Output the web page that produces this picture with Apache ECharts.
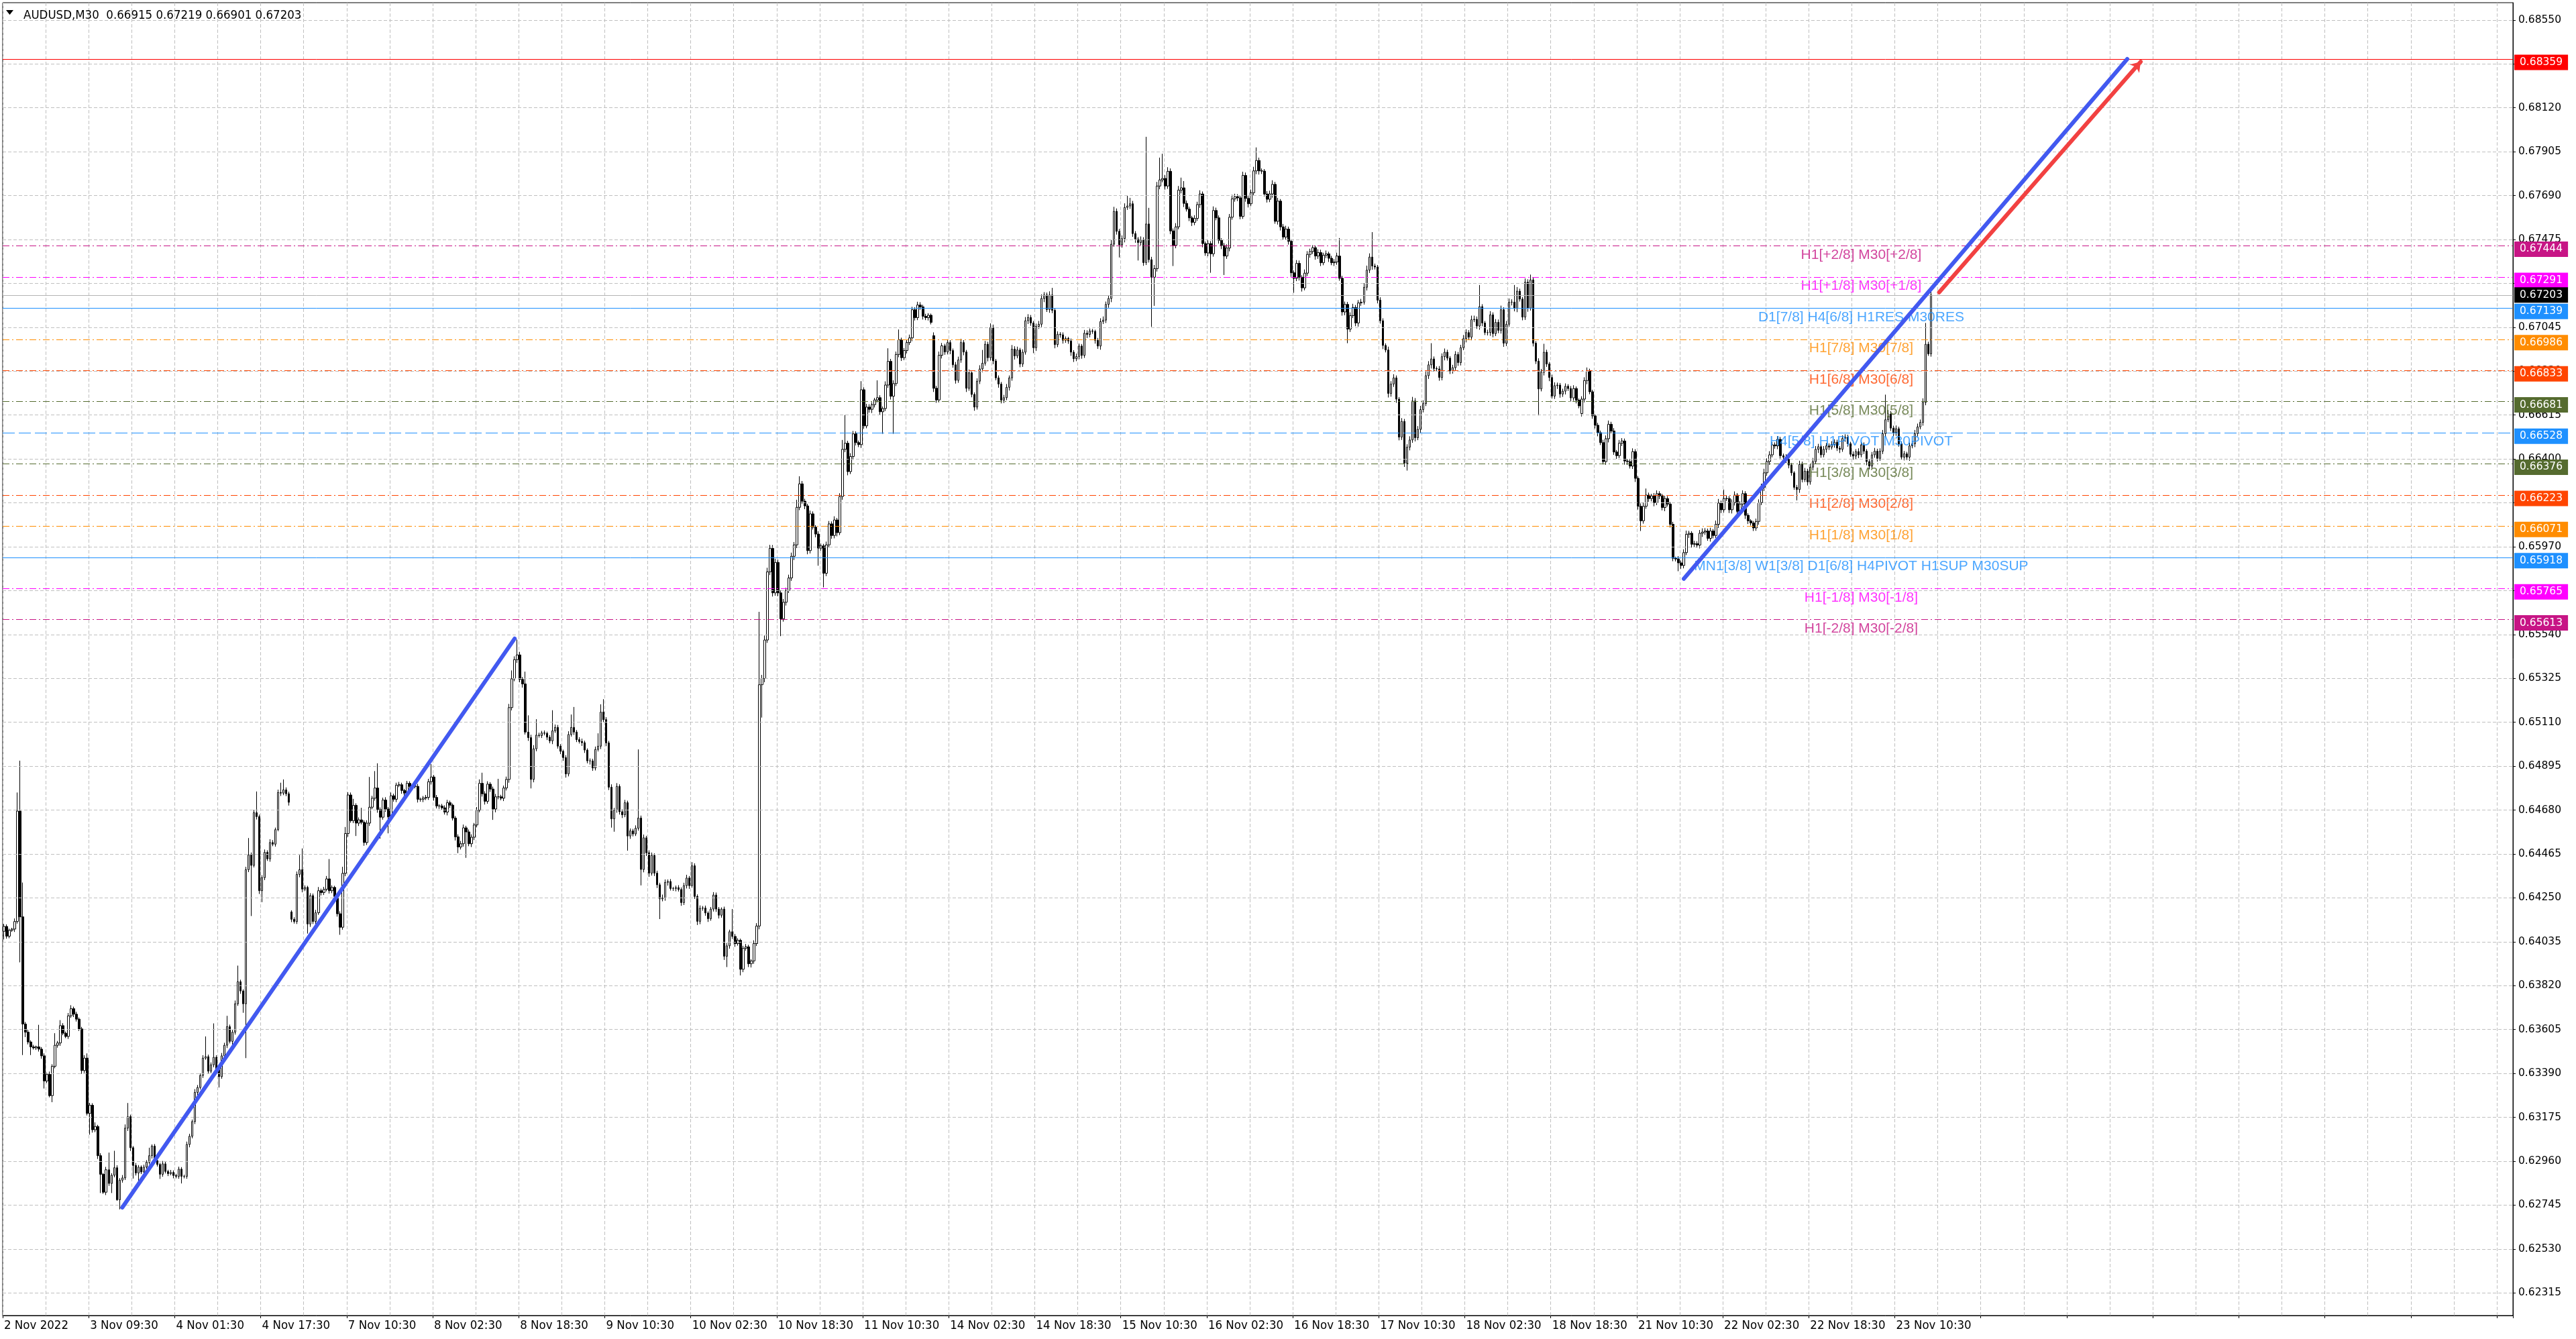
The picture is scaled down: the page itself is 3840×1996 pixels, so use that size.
<!DOCTYPE html>
<html lang="en">
<head>
<meta charset="UTF-8">
<title>AUDUSD,M30</title>
<style>
html,body{margin:0;padding:0;background:#fff;}
#main{width:3840px;height:1996px;}
</style>
</head>
<body>
<div id="main"></div>
<script src="https://cdn.jsdelivr.net/npm/echarts@6/dist/echarts.min.js"></script>
<script>
// M30 bars, prices in 1e-5 units (64110 = 0.64110)
const firstOpen = 64086;
const closes = [
64110,64062,64091,64097,64134,64675,64157,63632,63592,63544,63520,63515,63520,63509,63476,63353,63385,63281,63425,63528,
63539,63624,63587,63571,63672,63707,63680,63656,63608,63404,63465,63194,63234,63114,63130,62987,62896,62808,62918,62851,
62891,62928,62771,62867,62878,63122,63178,63026,62939,62902,62931,62907,62931,62955,62987,63034,62963,62944,62896,62947,
62910,62899,62905,62890,62886,62921,62886,62886,63042,63082,63154,63297,63321,63380,63465,63472,63401,63432,63469,63409,
63374,63476,63528,63619,63547,63592,63731,63839,63794,63731,64388,64460,64409,64667,64648,64285,64349,64473,64441,64521,
64513,64584,64766,64763,64779,64760,64718,64145,64134,64365,64388,64293,64301,64122,64261,64134,64177,64285,64276,64292,
64343,64285,64301,64257,64172,64106,64370,64565,64754,64628,64703,64616,64632,64620,64521,64616,64694,64738,64788,64683,
64645,64729,64685,64647,64750,64733,64802,64804,64776,64763,64811,64796,64798,64796,64733,64733,64739,64742,64819,64842,
64742,64700,64700,64691,64670,64716,64704,64641,64549,64499,64515,64593,64573,64515,64547,64607,64679,64811,64760,64723,
64807,64783,64685,64745,64745,64738,64788,64830,65182,65323,65417,65440,65320,65298,65062,65035,64830,64980,65047,65045,
65058,65056,65037,65019,65068,65085,64993,64968,64937,64857,65050,65085,65062,65025,65016,65010,64974,64921,64921,64886,
64977,64993,65160,65123,65009,64792,64637,64679,64796,64672,64657,64716,64553,64578,64563,64591,64641,64389,64544,64471,
64371,64458,64371,64314,64245,64250,64326,64330,64296,64296,64300,64291,64227,64310,64347,64310,64407,64257,64135,64199,
64200,64176,64148,64195,64264,64195,64165,64195,63964,64015,64084,64061,64026,64042,63900,64003,64010,63927,63941,64026,
64112,65294,65324,65513,65847,65962,65744,65893,65744,65617,65698,65755,65817,65923,65979,66163,66278,66193,66170,65951,
66131,66066,66032,65963,65974,65840,65979,66082,66025,66101,66039,66216,66447,66477,66338,66412,66523,66480,66470,66739,
66562,66654,66643,66666,66689,66700,66631,66647,66762,66878,66707,66769,66912,66984,66896,66931,66970,66993,67131,67092,
67154,67145,67099,67092,67104,67069,66746,66689,66908,66954,66924,66970,66931,66861,66785,66885,66970,66924,66746,66822,
66716,66654,66781,66841,66869,66962,66896,67044,66880,66797,66767,66688,66700,66751,66797,66938,66905,66934,66865,66923,
67077,67093,67066,66945,67049,67060,67186,67203,67132,67203,67128,66960,67011,67008,66981,66990,66978,66923,66891,66902,
66953,66907,67016,67010,67027,67025,66981,66953,67073,67080,67157,67186,67452,67613,67515,67449,67479,67632,67639,67650,
67504,67477,67460,67474,67362,67551,67376,67290,67332,67737,67767,67774,67737,67809,67517,67446,67537,67717,67728,67652,
67624,67581,67559,67578,67646,67698,67455,67409,67455,67405,67617,67581,67471,67446,67394,67433,67584,67674,67685,67679,
67588,67789,67676,67650,67704,67811,67862,67811,67810,67698,67672,67698,67745,67564,67663,67537,67487,67526,67466,67312,
67285,67358,67290,67238,67310,67402,67416,67435,67394,67411,67361,67398,67405,67383,67361,67365,67394,67285,67120,67157,
67036,67102,67142,67066,67164,67168,67241,67325,67389,67345,67340,67178,67077,66956,66934,66721,66767,66797,66693,66507,
66584,66379,66458,66493,66684,66504,66545,66642,66671,66808,66861,66890,66843,66841,66799,66901,66923,66894,66832,66847,
66912,66872,66945,66989,67019,66997,67082,67084,67051,67146,67066,67019,67019,67106,67014,67069,67030,67131,66967,67060,
67168,67168,67137,67222,67183,67095,67266,67139,67277,66967,66879,66743,66825,66923,66865,66799,66708,66759,66762,66718,
66732,66756,66745,66699,66745,66688,66660,66693,66784,66830,66729,66611,66565,66529,66480,66387,66499,66570,66537,66434,
66416,66477,66488,66390,66387,66365,66436,66305,66168,66097,66168,66223,66206,66219,66186,66230,66219,66162,66206,66179,
66080,65913,65910,65891,65878,65941,66031,66036,65982,65985,65978,66036,66042,66047,66011,66047,66025,66080,66184,66151,
66206,66206,66151,66186,66223,66143,66179,66230,66124,66097,66086,66062,66094,66186,66261,66332,66387,66420,66469,66464,
66496,66416,66409,66398,66370,66332,66261,66250,66373,66299,66340,66288,66360,66387,66447,66460,66420,66447,66464,66458,
66471,66482,66453,66447,66500,66507,66474,66423,66414,66436,66420,66469,66438,66387,66365,66420,66438,66403,66438,66524,
66592,66620,66551,66529,66548,66474,66409,66425,66409,66464,66474,66524,66557,66579,66677,66962,66915,67203
];
// wick lengths above / below the body
const upWick = [
12,10,8,6,15,91,247,168,10,12,8,10,6,108,10,12,8,14,10,59,
10,27,12,8,14,17,10,12,8,10,14,23,12,10,20,8,12,6,14,84,
10,83,12,10,14,18,67,10,8,12,10,8,12,10,39,8,10,12,8,14,
10,8,12,10,8,12,10,8,14,12,10,16,12,10,14,99,10,12,166,10,
8,14,12,53,10,12,16,79,10,8,14,83,12,14,104,10,12,14,10,16,
12,10,14,48,51,12,10,8,10,14,72,104,10,8,12,10,14,18,10,12,
14,97,10,8,10,12,32,32,13,12,32,10,12,59,10,14,148,12,83,121,
10,12,14,10,16,10,12,14,10,8,12,10,8,10,12,8,10,12,14,63,
10,12,8,10,12,14,10,8,10,12,14,16,10,12,14,10,16,19,52,12,
14,10,12,14,88,10,12,14,18,41,16,75,15,12,60,82,14,18,78,12,
10,12,8,10,101,14,12,10,8,12,16,63,100,10,12,14,10,8,12,10,
14,63,38,63,12,10,14,12,16,10,12,14,10,12,10,14,336,12,16,10,
12,14,10,12,10,16,14,10,12,8,10,12,10,14,16,10,18,12,10,14,
10,12,8,10,14,12,10,8,12,14,10,111,12,10,8,12,14,10,8,16,
14,357,18,22,20,17,16,18,14,12,16,14,16,18,14,37,37,14,12,10,
16,12,10,14,12,10,16,14,12,18,10,16,46,138,12,16,14,12,10,42,
12,16,14,12,10,85,12,10,18,64,12,16,14,50,10,12,14,16,14,12,
16,14,10,12,10,8,16,12,18,14,10,16,12,10,14,16,18,12,10,16,
12,10,14,18,65,16,12,20,14,10,12,10,14,16,12,20,14,16,10,14,
18,16,12,10,14,16,20,14,12,18,35,10,14,10,12,10,8,12,10,14,
12,10,16,14,12,10,8,12,16,18,14,16,22,22,14,12,16,20,51,29,
14,12,10,16,12,427,79,14,18,20,109,121,16,20,14,12,18,20,50,33,
14,12,10,16,14,18,12,10,16,12,20,14,12,10,12,18,16,20,14,12,
12,18,14,12,16,20,64,14,12,10,14,16,20,12,16,10,14,16,12,10,
12,16,14,10,18,16,14,12,10,16,14,12,16,10,12,14,16,88,12,14,
12,16,18,12,14,16,20,22,18,122,12,10,14,12,10,16,14,18,12,10,
16,12,14,18,20,14,16,18,16,20,18,77,12,10,14,16,18,12,10,14,
16,12,14,18,16,12,20,18,14,106,12,10,14,18,12,16,14,20,12,16,
18,14,84,20,12,10,18,14,26,12,10,14,16,41,12,10,14,16,12,10,
12,14,10,12,16,10,8,14,16,18,12,10,8,12,10,14,16,18,12,14,
10,16,14,12,10,14,16,12,10,14,18,32,12,10,14,16,12,10,14,12,
10,12,8,14,12,16,18,12,10,14,12,16,18,14,12,16,10,18,20,12,
44,14,12,16,18,10,14,16,12,10,8,10,14,16,18,20,16,18,14,12,
16,12,10,14,12,10,8,12,18,14,16,12,14,18,16,14,12,16,14,12,
16,14,12,10,16,14,12,10,14,12,16,14,12,10,12,14,16,12,14,18,
123,20,14,12,16,10,12,14,10,16,14,18,16,14,20,104,12,16
];
const downWick = [
40,12,10,8,14,10,223,152,24,12,40,8,10,12,14,37,10,8,32,10,
12,14,10,8,12,10,14,12,10,16,12,10,104,14,12,16,92,8,14,12,
47,10,5,47,12,10,14,16,64,12,47,10,12,8,10,14,12,10,23,12,
10,12,8,14,10,12,35,10,12,14,10,12,16,10,12,8,14,10,12,16,
53,10,12,14,10,16,12,10,14,44,266,12,248,10,14,16,56,12,10,14,
10,12,8,14,10,12,16,14,10,12,14,16,10,47,14,12,16,10,14,12,
10,14,12,16,14,37,12,14,16,10,12,63,14,10,16,12,14,10,12,16,
105,12,14,81,10,12,14,10,16,12,10,14,12,10,16,12,14,10,12,14,
16,12,14,10,12,16,14,12,18,30,12,14,127,12,16,14,12,10,14,16,
12,14,53,16,12,10,14,12,16,14,12,16,14,18,12,16,44,14,12,10,
12,10,14,12,16,10,12,14,16,18,12,10,14,12,10,16,14,12,18,14,
12,10,14,12,16,14,43,63,12,14,16,12,72,14,12,10,12,78,14,16,
18,12,14,16,99,12,14,16,10,12,14,10,16,12,14,16,10,12,18,14,
12,14,16,10,12,14,16,12,18,53,14,12,16,10,30,14,12,16,18,14,
12,16,161,18,14,16,18,14,16,85,14,16,12,14,18,16,14,12,16,18,
14,12,16,86,12,69,14,12,16,14,18,12,16,14,18,12,16,14,12,16,
14,12,16,18,14,12,16,108,12,14,16,184,12,14,16,12,14,12,16,14,
12,14,16,12,14,10,18,14,12,16,14,12,18,14,16,12,14,16,18,12,
14,18,12,14,16,12,18,14,16,12,18,16,14,12,16,14,18,12,16,14,
12,16,14,27,16,12,14,18,12,16,14,18,12,14,16,12,14,18,16,12,
14,16,12,18,14,12,16,14,18,12,14,16,18,12,16,62,14,18,12,14,
16,18,88,14,16,12,14,243,140,14,16,12,18,14,16,101,14,12,16,18,
12,16,18,14,12,16,18,14,16,93,14,12,16,18,93,14,16,12,14,16,
14,12,16,18,12,14,16,18,14,12,16,14,18,12,16,18,14,12,16,20,
71,14,16,18,12,14,16,12,18,14,16,12,14,18,12,16,14,12,18,16,
69,14,12,16,18,14,12,16,14,18,12,16,14,18,12,20,16,14,18,16,
14,18,36,16,14,18,12,16,14,12,16,18,14,12,16,14,18,12,16,14,
12,16,14,12,18,14,16,12,14,18,16,12,14,16,18,12,14,16,18,14,
12,16,14,18,12,16,14,18,12,16,14,130,12,16,14,18,12,14,16,18,
14,16,12,18,14,16,12,14,16,18,12,14,16,18,12,14,16,18,12,14,
16,12,14,18,16,12,14,18,16,50,14,12,16,14,18,12,16,14,18,12,
16,14,12,41,16,14,12,18,16,14,12,16,18,14,12,16,14,12,18,16,
14,12,16,18,14,12,16,14,18,16,12,15,14,16,12,18,14,16,12,14,
16,14,12,18,16,14,12,53,16,14,12,18,14,16,12,18,14,12,16,14,
12,16,14,18,12,16,14,12,18,14,16,12,14,18,16,12,14,16,12,14,
16,12,14,18,16,14,12,16,14,18,12,16,14,12,16,14,10,14
];
// weekend gaps: bar index and its opening price
const gapBars = [107, 346, 587];
const gapOpens = [64181, 67004, 66622];

const slotCount = 934; // chart width in bars, including the empty future area
const timeLabels = ['2 Nov 2022','3 Nov 09:30','4 Nov 01:30','4 Nov 17:30','7 Nov 10:30','8 Nov 02:30',
  '8 Nov 18:30','9 Nov 10:30','10 Nov 02:30','10 Nov 18:30','11 Nov 10:30','14 Nov 02:30','14 Nov 18:30',
  '15 Nov 10:30','16 Nov 02:30','16 Nov 18:30','17 Nov 10:30','18 Nov 02:30','18 Nov 18:30','21 Nov 10:30',
  '22 Nov 02:30','22 Nov 18:30','23 Nov 10:30'];
const priceTicks = ['0.68550','0.68335','0.68120','0.67905','0.67690','0.67475','0.67260','0.67045','0.66830',
  '0.66615','0.66400','0.66185','0.65970','0.65755','0.65540','0.65325','0.65110','0.64895','0.64680','0.64465',
  '0.64250','0.64035','0.63820','0.63605','0.63390','0.63175','0.62960','0.62745','0.62530','0.62315'];

// murrey levels
const levelPrices = [68359, 67444, 67291, 67203, 67139, 66986, 66833, 66681, 66528, 66376, 66223, 66071, 65918, 65765, 65613];
const levelColors = ['#ff0000','#c71585','#ff00ff','#000000','#1e90ff','#ff8c00','#ff4500','#556b2f','#1e90ff','#556b2f','#ff4500','#ff8c00','#1e90ff','#ff00ff','#c71585'];
const levelStyles = ['solid','dashdot','dashdot','price','solid','dashdot','dashdot','dashdot','dash','dashdot','dashdot','dashdot','solid','dashdot','dashdot'];
const levelNames = ['', 'H1[+2/8] M30[+2/8]', 'H1[+1/8] M30[+1/8]', '', 'D1[7/8] H4[6/8] H1RES M30RES',
  'H1[7/8] M30[7/8]', 'H1[6/8] M30[6/8]', 'H1[5/8] M30[5/8]', 'H4[5/8] H1PIVOT M30PIVOT', 'H1[3/8] M30[3/8]',
  'H1[2/8] M30[2/8]', 'H1[1/8] M30[1/8]', 'MN1[3/8] W1[3/8] D1[6/8] H4PIVOT H1SUP M30SUP', 'H1[-1/8] M30[-1/8]', 'H1[-2/8] M30[-2/8]'];
const levelTextBar = 691;

// trend lines: [bar, price]
const trendA = [[44, 62733], [190, 65520]];
const trendB = [[625, 65813], [790, 68359]];
const arrowLine = [[720, 67216], [795, 68346]];

const narrow = '"DejaVu Sans Condensed","Liberation Sans Narrow",sans-serif';

let candles = [];
for (let i = 0; i < closes.length; i++) {
  let g = gapBars.indexOf(i);
  let o = i === 0 ? firstOpen : (g >= 0 ? gapOpens[g] : closes[i - 1]);
  let c = closes[i];
  let hi = Math.max(o, c) + upWick[i];
  let lo = Math.min(o, c) - downWick[i];
  candles.push([o / 1e5, c / 1e5, lo / 1e5, hi / 1e5]);
}
let last = candles[candles.length - 1];
let titleText = 'AUDUSD,M30  ' + [last[0], last[3], last[2], last[1]].map(v => v.toFixed(5)).join(' ');

let slots = [];
for (let i = 0; i < slotCount; i++) slots.push(i);
let tickVals = priceTicks.map(Number);

let levelLines = levelPrices.map((p, k) => {
  let st = levelStyles[k];
  let type = st === 'dashdot' ? [10, 4, 2, 4] : (st === 'dash' ? [18, 6] : 'solid');
  return {
    yAxis: p / 1e5,
    lineStyle: {color: st === 'price' ? '#b4b4b4' : levelColors[k], type: type, width: 1},
    label: {
      show: true, position: 'end', formatter: (p / 1e5).toFixed(5),
      backgroundColor: levelColors[k], color: '#fff', padding: [3, 8, 3, 8],
      distance: 2, offset: [0, st === 'price' ? 0 : 5],
      fontFamily: '"DejaVu Sans",Verdana,sans-serif', fontSize: 15.5, lineHeight: 17
    }
  };
});

let levelTexts = [];
levelNames.forEach((n, k) => {
  if (!n) return;
  levelTexts.push({value: [levelTextBar, levelPrices[k] / 1e5], label: {show: true, formatter: n, color: levelColors[k]}});
});

var myChart = echarts.init(document.getElementById('main'));
var option = {
  animation: false,
  backgroundColor: '#fff',
  title: {
    text: titleText, left: 30, top: 9,
    textStyle: {fontSize: 18.5, fontWeight: 'normal', color: '#000', fontFamily: narrow}
  },
  graphic: [{type: 'polygon', shape: {points: [[9, 15], [20, 15], [14.5, 22]]}, style: {fill: '#000'}}],
  grid: {left: 4, right: 94, top: 4, bottom: 35, show: true, borderColor: '#000', borderWidth: 1, backgroundColor: '#fff'},
  xAxis: {
    type: 'category', data: slots, boundaryGap: true,
    axisLine: {show: true, lineStyle: {color: '#000', width: 1}},
    axisTick: {show: true, interval: 31, length: 4, lineStyle: {color: '#000'}},
    axisLabel: {
      interval: 31, align: 'left', margin: 6, fontSize: 18.5, fontFamily: narrow, color: '#000',
      formatter: (v, i) => timeLabels[i / 32] || ''
    },
    splitLine: {show: true, interval: 15, lineStyle: {color: '#c0c0c0', type: [5, 3], width: 1}}
  },
  yAxis: {
    type: 'value', position: 'right', min: 0.62204, max: 0.68635, scale: true,
    splitLine: {show: false},
    axisLine: {show: true, lineStyle: {color: '#000'}},
    axisTick: {show: true, customValues: tickVals, length: 4, lineStyle: {color: '#000'}},
    axisLabel: {
      customValues: tickVals, formatter: v => v.toFixed(5), margin: 8,
      fontFamily: '"DejaVu Sans",Verdana,sans-serif', fontSize: 15.5, color: '#000'
    }
  },
  series: [
    {
      name: 'grid', type: 'line', data: [], z: 1, silent: true,
      markLine: {silent: true, symbol: 'none', precision: 5, label: {show: false},
        lineStyle: {color: '#c0c0c0', type: [5, 3], width: 1},
        data: tickVals.map(v => ({yAxis: v}))}
    },
    {
      name: 'levels', type: 'line', data: [], z: 2, silent: true,
      markLine: {silent: true, symbol: 'none', precision: 5, data: levelLines}
    },
    {
      name: 'AUDUSD', type: 'candlestick', data: candles, z: 3, large: false, barWidth: 3,
      itemStyle: {color: '#fff', color0: '#000', borderColor: '#000', borderColor0: '#000', borderWidth: 1}
    },
    {
      name: 'levelText', type: 'scatter', data: levelTexts, z: 4, symbolSize: 0, silent: true,
      label: {position: 'bottom', distance: 3, fontSize: 21, fontFamily: '"Liberation Sans",Arial,sans-serif'}
    },
    {
      name: 'trendA', type: 'line', z: 5, silent: true, symbol: 'none',
      data: trendA.map(d => [d[0], d[1] / 1e5]),
      lineStyle: {color: '#4259f0', width: 6, cap: 'round'}
    },
    {
      name: 'trendB', type: 'line', z: 5, silent: true, symbol: 'none',
      data: trendB.map(d => [d[0], d[1] / 1e5]),
      lineStyle: {color: '#4259f0', width: 6, cap: 'round'}
    },
    {
      name: 'arrow', type: 'line', data: [], z: 5, silent: true,
      markLine: {silent: true, symbol: ['none', 'arrow'], symbolSize: 14, precision: 5, label: {show: false},
        lineStyle: {color: '#f24141', width: 6, type: 'solid', cap: 'round'},
        data: [[{coord: [arrowLine[0][0], arrowLine[0][1] / 1e5]}, {coord: [arrowLine[1][0], arrowLine[1][1] / 1e5]}]]}
    }
  ]
};
myChart.setOption(option);
if (closes.length !== upWick.length || closes.length !== downWick.length) {
  setTimeout(() => { throw new Error('length mismatch ' + closes.length + ' ' + upWick.length + ' ' + downWick.length); }, 0);
}
</script>
</body>
</html>
